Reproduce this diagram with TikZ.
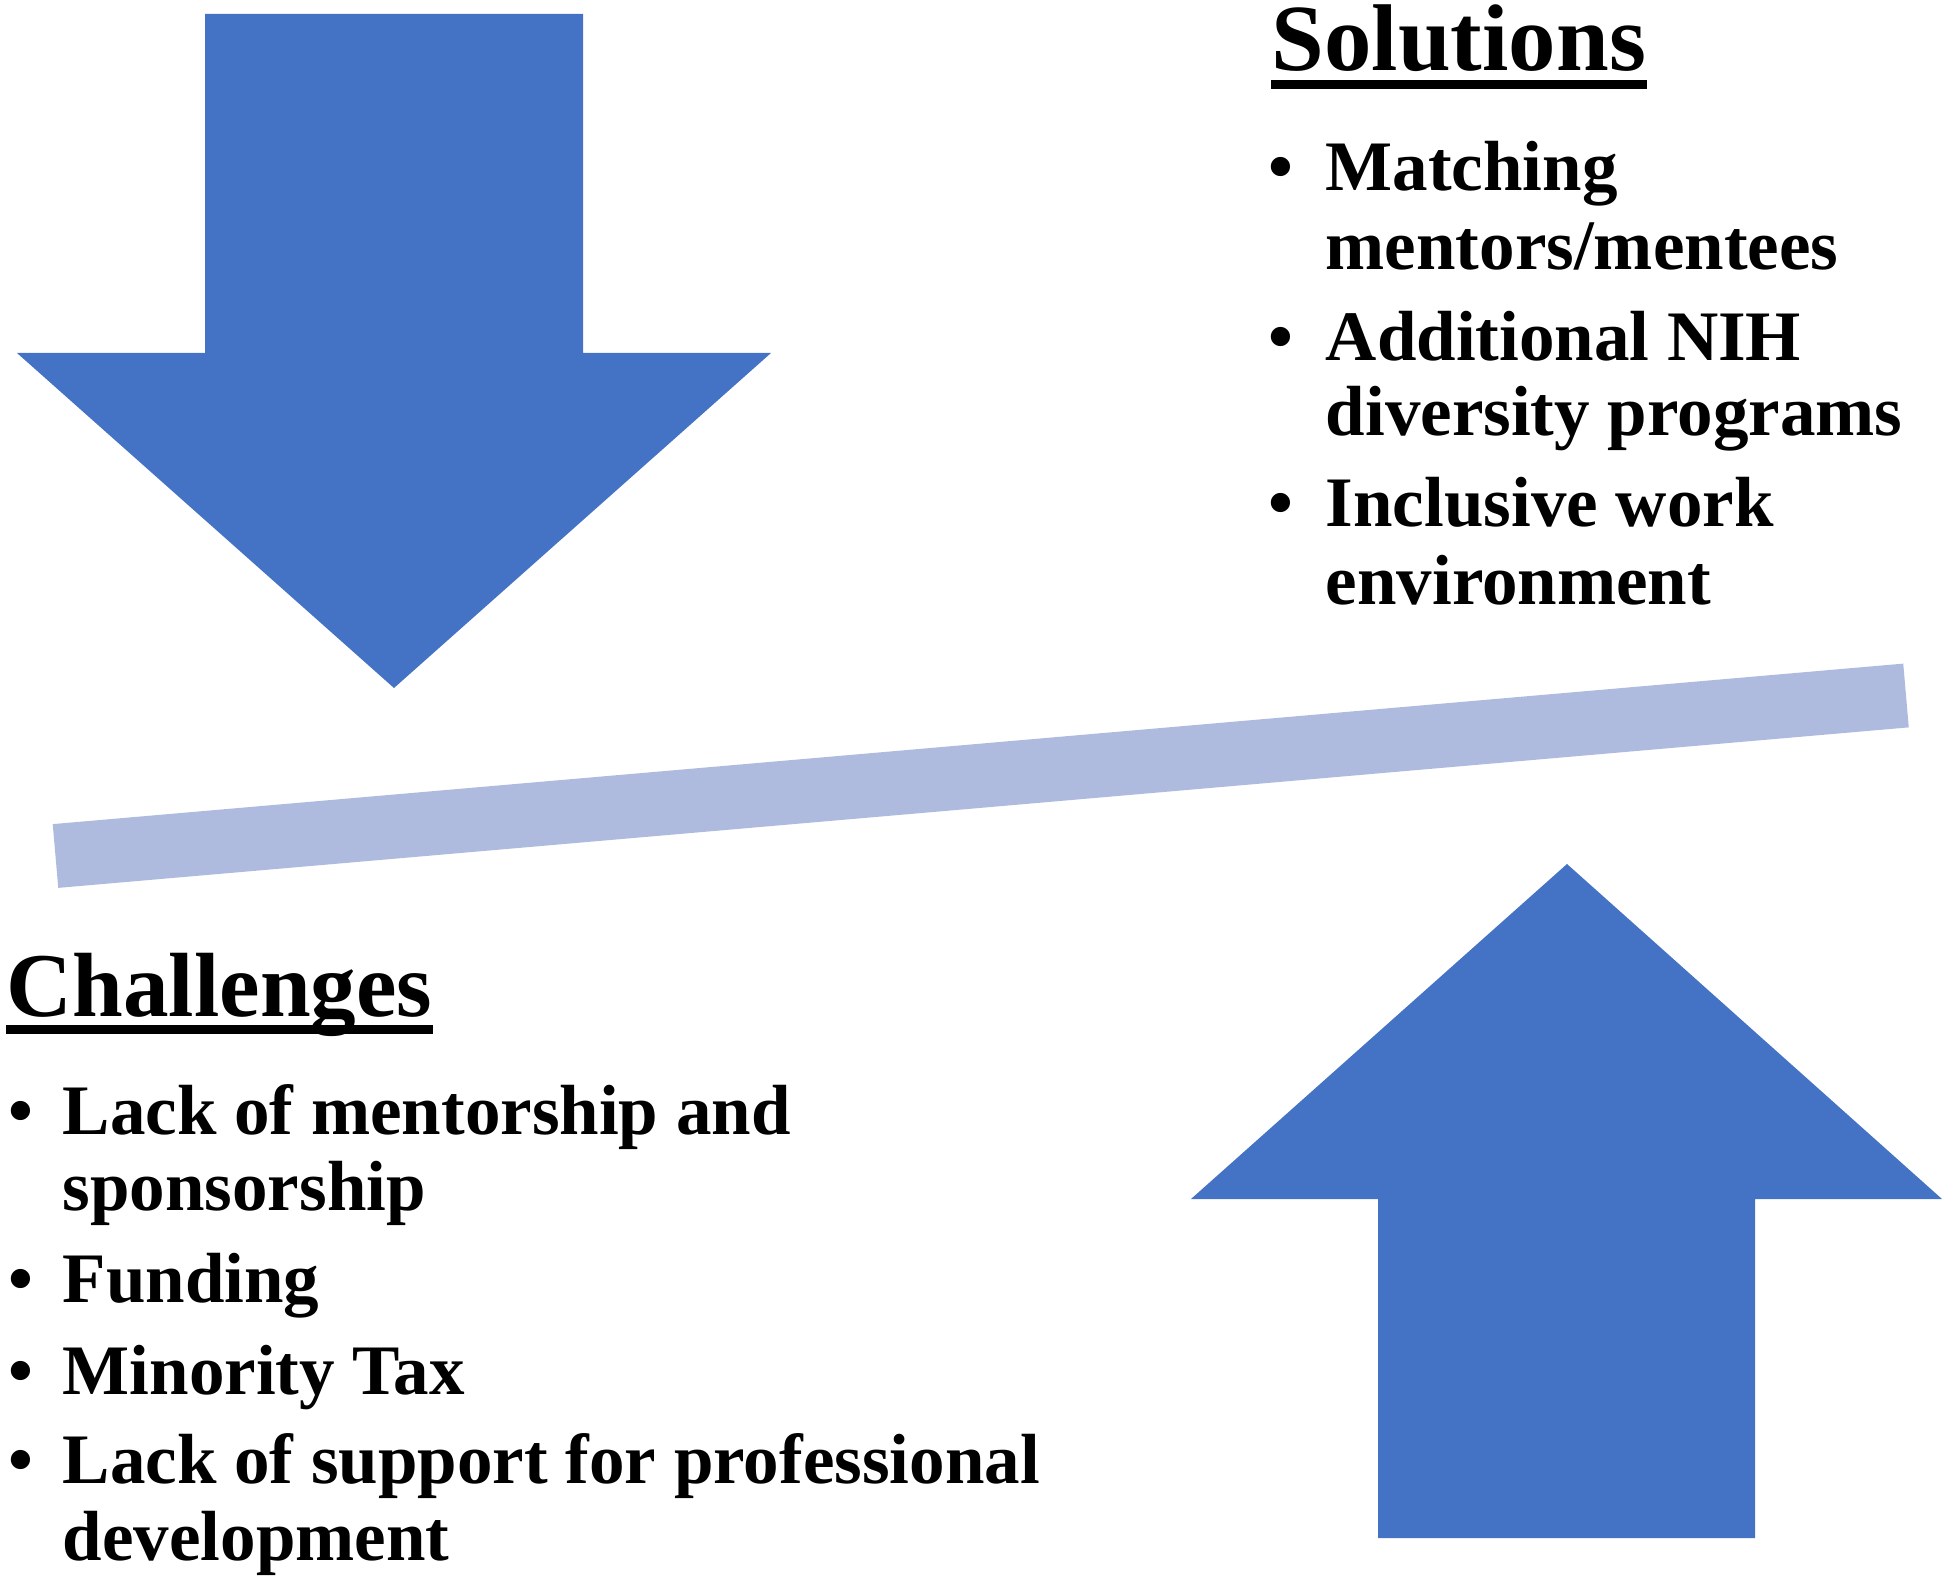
\documentclass[tikz,border=0pt]{standalone}
\usepackage{fontspec}
\setmainfont{Liberation Serif}
\definecolor{arrowblue}{RGB}{68,114,196}
\definecolor{barblue}{RGB}{175,187,222}
\tikzset{
  head/.style={anchor=base west,inner sep=0pt,font=\fontsize{#1}{26}\selectfont\bfseries},
  item/.style={anchor=base west,inner sep=0pt,font=\fontsize{17.75}{19.25}\selectfont\bfseries},
}

\begin{document}
\begin{tikzpicture}[x=0.25pt,y=-0.25pt]
        \useasboundingbox (0,0) rectangle (1950,1583);
        % arrows and the tilted bar
        \fill[arrowblue](205,14)--(583,14)--(583,353)--(771,353)--(394,688)--(17,353)--(205,353)--cycle;
        \fill[arrowblue](1378,1538)--(1755,1538)--(1755,1199)--(1942,1199)--(1567,864)--(1191,1199)--(1378,1199)--cycle;
        \draw[barblue,line width=16pt](55.5,856)--(1906,695.5);
        % solutions
        \node[head=23.7](sol) at (1271,71){Solutions};
        \draw[line width=2.25pt]([yshift=-3.4pt]sol.base west)--([yshift=-3.4pt]sol.base east);
        \node[item](sb1) at (1268,191){\textbullet};
        \node[item](s1a) at (1325,191){Matching};
        \node[item](s1b) at (1325,269){mentors/mentees};
        \node[item](sb2) at (1268,360){\textbullet};
        \node[item](s2a) at (1325,360){Additional NIH};
        \node[item](s2b) at (1325,436){diversity programs};
        \node[item](sb3) at (1268,527){\textbullet};
        \node[item](s3a) at (1325,527){Inclusive work};
        \node[item](s3b) at (1325,604){environment};
        % challenges
        \node[head=22.8](chal) at (6,1016){Challenges};
        \draw[line width=2.25pt]([yshift=-3.4pt]chal.base west)--([yshift=-3.4pt]chal.base east);
        \node[item](cb1) at (8,1134){\textbullet};
        \node[item](c1a) at (62,1134){Lack of mentorship and};
        \node[item](c1b) at (62,1210){sponsorship};
        \node[item](cb2) at (8,1302){\textbullet};
        \node[item](c2) at (62,1302){Funding};
        \node[item](cb3) at (8,1394){\textbullet};
        \node[item](c3) at (62,1394){Minority Tax};
        \node[item](cb4) at (8,1483){\textbullet};
        \node[item](c4a) at (62,1483){Lack of support for professional};
        \node[item](c4b) at (62,1560){development};
    \end{tikzpicture}
\end{document}
